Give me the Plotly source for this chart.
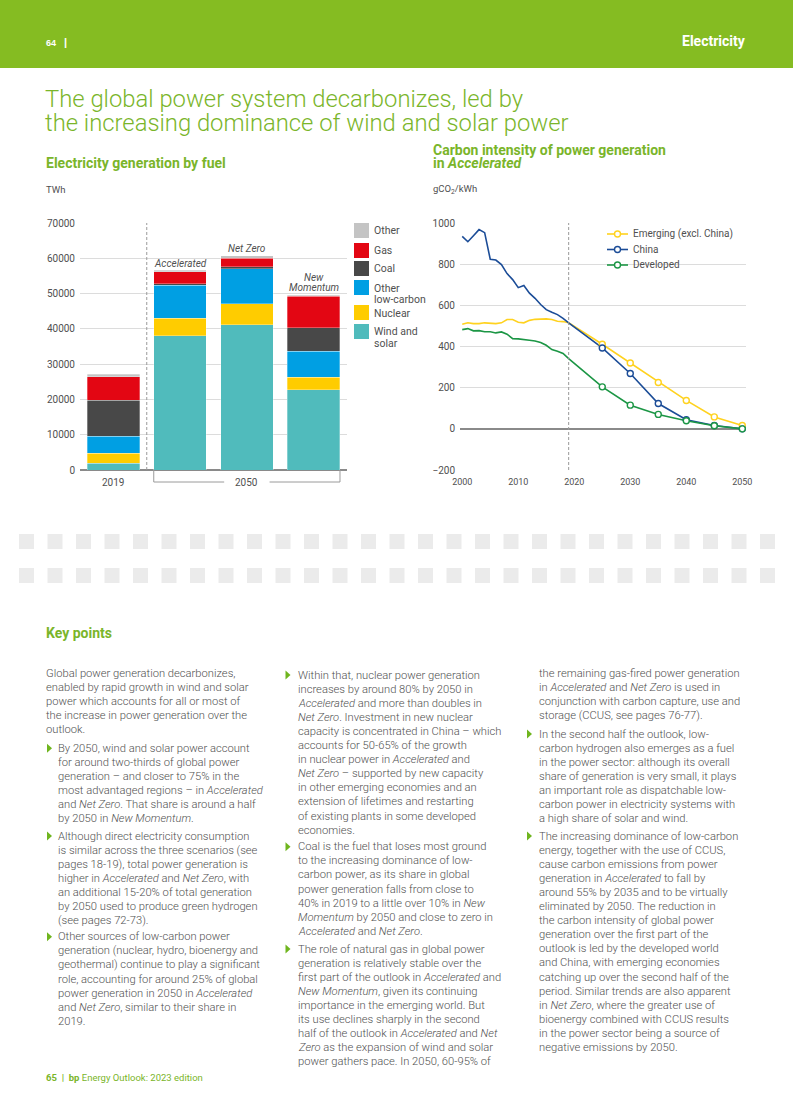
import plotly.graph_objects as go
from plotly.subplots import make_subplots

# ---------------- data ----------------
categories = ["2019", "Accelerated", "Net Zero", "New Momentum"]
wind_solar = [1900, 38000, 41200, 22700]
nuclear = [2800, 5000, 5950, 3600]
other_low_carbon = [4900, 9350, 9850, 7350]
coal = [10100, 400, 550, 6600]
gas = [6700, 3500, 2450, 9050]
other = [700, 300, 650, 200]

years_hist = [2000, 2001, 2002, 2003, 2004, 2005, 2006, 2007, 2008, 2009,
              2010, 2011, 2012, 2013, 2014, 2015, 2016, 2017, 2018, 2019]
china_hist = [935, 909, 938, 968, 953, 824, 820, 798, 754, 725,
              686, 696, 659, 634, 604, 579, 566, 555, 537, 515]
emerging_hist = [508, 515, 511, 511, 515, 513, 511, 515, 531, 531,
                 518, 515, 527, 532, 534, 534, 531, 523, 521, 515]
developed_hist = [482, 487, 476, 477, 472, 472, 466, 471, 460, 438,
                  437, 435, 430, 427, 419, 406, 385, 377, 366, 341]
years_proj = [2025, 2030, 2035, 2040, 2045, 2050]
china_proj = [393, 269, 123, 44, 16, 0]
emerging_proj = [411, 320, 225, 138, 58, 16]
developed_proj = [204, 115, 70, 39, 15, 0]

bar_ticks = [0, 10000, 20000, 30000, 40000, 50000, 60000, 70000]
line_yticks = [-200, 0, 200, 400, 600, 800, 1000]
line_xticks = [2000, 2010, 2020, 2030, 2040, 2050]

# ---------------- text ----------------
col1 = [
    ("p", ["Global power generation decarbonizes,",
           "enabled by rapid growth in wind and solar",
           "power which accounts for all or most of",
           "the increase in power generation over the",
           "outlook."]),
    ("b", ["By 2050, wind and solar power account",
           "for around two-thirds of global power",
           "generation – and closer to 75% in the",
           "most advantaged regions – in <i>Accelerated</i>",
           "and <i>Net Zero</i>. That share is around a half",
           "by 2050 in <i>New Momentum</i>."]),
    ("b", ["Although direct electricity consumption",
           "is similar across the three scenarios (see",
           "pages 18-19), total power generation is",
           "higher in <i>Accelerated</i> and <i>Net Zero</i>, with",
           "an additional 15-20% of total generation",
           "by 2050 used to produce green hydrogen",
           "(see pages 72-73)."]),
    ("b", ["Other sources of low-carbon power",
           "generation (nuclear, hydro, bioenergy and",
           "geothermal) continue to play a significant",
           "role, accounting for around 25% of global",
           "power generation in 2050 in <i>Accelerated</i>",
           "and <i>Net Zero</i>, similar to their share in",
           "2019."]),
]
col2 = [
    ("b", ["Within that, nuclear power generation",
           "increases by around 80% by 2050 in",
           "<i>Accelerated</i> and more than doubles in",
           "<i>Net Zero</i>. Investment in new nuclear",
           "capacity is concentrated in China – which",
           "accounts for 50-65% of the growth",
           "in nuclear power in <i>Accelerated</i> and",
           "<i>Net Zero</i> – supported by new capacity",
           "in other emerging economies and an",
           "extension of lifetimes and restarting",
           "of existing plants in some developed",
           "economies."]),
    ("b", ["Coal is the fuel that loses most ground",
           "to the increasing dominance of low-",
           "carbon power, as its share in global",
           "power generation falls from close to",
           "40% in 2019 to a little over 10% in <i>New</i>",
           "<i>Momentum</i> by 2050 and close to zero in",
           "<i>Accelerated</i> and <i>Net Zero</i>."]),
    ("b", ["The role of natural gas in global power",
           "generation is relatively stable over the",
           "first part of the outlook in <i>Accelerated</i> and",
           "<i>New Momentum</i>, given its continuing",
           "importance in the emerging world. But",
           "its use declines sharply in the second",
           "half of the outlook in <i>Accelerated</i> and <i>Net</i>",
           "<i>Zero</i> as the expansion of wind and solar",
           "power gathers pace. In 2050, 60-95% of"]),
]
col3 = [
    ("p", ["the remaining gas-fired power generation",
           "in <i>Accelerated</i> and <i>Net Zero</i> is used in",
           "conjunction with carbon capture, use and",
           "storage (CCUS, see pages 76-77)."]),
    ("b", ["In the second half the outlook, low-",
           "carbon hydrogen also emerges as a fuel",
           "in the power sector: although its overall",
           "share of generation is very small, it plays",
           "an important role as dispatchable low-",
           "carbon power in electricity systems with",
           "a high share of solar and wind."]),
    ("b", ["The increasing dominance of low-carbon",
           "energy, together with the use of CCUS,",
           "cause carbon emissions from power",
           "generation in <i>Accelerated</i> to fall by",
           "around 55% by 2035 and to be virtually",
           "eliminated by 2050. The reduction in",
           "the carbon intensity of global power",
           "generation over the first part of the",
           "outlook is led by the developed world",
           "and China, with emerging economies",
           "catching up over the second half of the",
           "period. Similar trends are also apparent",
           "in <i>Net Zero</i>, where the greater use of",
           "bioenergy combined with CCUS results",
           "in the power sector being a source of",
           "negative emissions by 2050."]),
]

# ---------------- style ----------------
W, H = 793, 1118
GREEN = "#85BC22"
TGREEN = "#7AB52A"
TXT = "#505050"
GRID = "#DCDCDC"
BODY_FONT = "Roboto"
DASH = "3px,2px"


def X(px):
    return px / W


def Y(py):
    return 1 - py / H


fig = make_subplots(rows=1, cols=2)

series = [("Wind and solar", wind_solar, "#50BBBC"),
          ("Nuclear", nuclear, "#FFCC00"),
          ("Other low-carbon", other_low_carbon, "#009FE3"),
          ("Coal", coal, "#484848"),
          ("Gas", gas, "#E30613"),
          ("Other", other, "#C4C4C4")]
for name, vals, col in series:
    fig.add_trace(go.Bar(x=categories, y=vals, name=name, marker_color=col,
                         marker_line_color="rgba(255,255,255,0.6)", marker_line_width=0.5,
                         showlegend=False), row=1, col=1)

lines = [("Emerging (excl. China)", emerging_hist, emerging_proj, "#FFD21F"),
         ("China", china_hist, china_proj, "#1B4C97"),
         ("Developed", developed_hist, developed_proj, "#1C9645")]
for name, hist, proj, col in lines:
    fig.add_trace(go.Scatter(x=years_hist + years_proj, y=hist + proj, mode="lines",
                             line=dict(color=col, width=1.6), showlegend=False,
                             hoverinfo="skip"), row=1, col=2)
for name, hist, proj, col in lines:
    fig.add_trace(go.Scatter(x=years_proj, y=proj, mode="markers",
                             marker=dict(symbol="circle", size=6, color="white",
                                         line=dict(color=col, width=1.4)),
                             showlegend=False, name=name), row=1, col=2)

plot_top, plot_bot = 223, 470
tickfont = dict(family=BODY_FONT, size=10, color=TXT)
fig.update_layout(
    width=W, height=H, margin=dict(l=0, r=0, t=0, b=0, pad=0, autoexpand=False),
    paper_bgcolor="white", plot_bgcolor="white", showlegend=False,
    barmode="stack", bargap=0.21,
    font=dict(family=BODY_FONT, color=TXT),
    xaxis=dict(domain=[X(80), X(347)], range=[-0.5, 3.5], showticklabels=False,
               showgrid=False, zeroline=False, showline=False, fixedrange=True,
               automargin=False),
    yaxis=dict(domain=[Y(plot_bot), Y(plot_top)], range=[0, 70000], tickvals=bar_ticks,
               tickformat="d", tickfont=tickfont, showgrid=True, gridcolor=GRID,
               gridwidth=1, zeroline=True, zerolinecolor="#8A8A8A", zerolinewidth=1.5,
               ticks="", ticklabelstandoff=4, showline=False, automargin=False),
    xaxis2=dict(domain=[X(460), X(746)], range=[1999.6, 2050.66], tickvals=line_xticks,
                tickformat="d",
                tickfont=dict(family=BODY_FONT, size=9, color=TXT), showgrid=False,
                zeroline=False, showline=False, ticks="", ticklabelstandoff=5,
                automargin=False),
    yaxis2=dict(domain=[Y(plot_bot), Y(plot_top)], range=[-200, 1000], tickvals=line_yticks,
                tickformat="d", tickfont=tickfont, showgrid=True, gridcolor=GRID,
                gridwidth=1, zeroline=True, zerolinecolor="#8A8A8A", zerolinewidth=1.5,
                ticks="", ticklabelstandoff=4, showline=False, automargin=False),
)

shapes = []
annos = []

shapes.append(dict(type="rect", xref="paper", yref="paper", x0=0, x1=1, y0=Y(68), y1=1,
                   fillcolor=GREEN, line_width=0, layer="below"))


def txt(x, y, s, size=11, color=TXT, xanchor="left", yanchor="middle", family=BODY_FONT,
        weight="normal", align="left"):
    annos.append(dict(x=X(x), y=Y(y), xref="paper", yref="paper", text=s, showarrow=False,
                      xanchor=xanchor, yanchor=yanchor, align=align, borderpad=0,
                      font=dict(family=family, size=size, color=color, weight=weight)))


txt(45, 42.5, "64", size=9, color="white", weight="bold", family="Liberation Sans")
txt(63, 42, "|", size=11, color="white", weight="bold", family="Liberation Sans")
txt(747, 41, "Electricity", size=14, color="white", xanchor="right", weight="bold")

txt(44, 99, "The global power system decarbonizes, led by", size=23.8, color=TGREEN, weight=300)
txt(44, 123.5, "the increasing dominance of wind and solar power", size=23.8, color=TGREEN,
    weight=300)

SUB = 14
txt(45, 163.5, "Electricity generation by fuel", size=SUB, color=TGREEN, weight="bold")
txt(432, 149.5, "Carbon intensity of power generation", size=SUB, color=TGREEN,
    weight="bold")
txt(432, 163.5, "in <i>Accelerated</i>", size=SUB, color=TGREEN, weight="bold")
txt(45, 189.5, "TWh", size=9.5)
txt(432, 189.5, "gCO<sub>2</sub>/kWh", size=9.5)

# bar chart decorations
shapes.append(dict(type="line", xref="x", yref="paper", x0=0.5, x1=0.5, y0=Y(470), y1=Y(223),
                   line=dict(color="#9A9A9A", width=1, dash=DASH)))
for xi, lbl, yy in [(1, "Accelerated", 263), (2, "Net Zero", 248)]:
    annos.append(dict(x=xi, y=Y(yy), xref="x", yref="paper", text="<i>" + lbl + "</i>",
                      showarrow=False, xanchor="center", yanchor="middle",
                      font=dict(size=10, color=TXT, family=BODY_FONT)))
for lbl, yy in [("New", 277), ("Momentum", 287.5)]:
    annos.append(dict(x=3, y=Y(yy), xref="x", yref="paper", text="<i>" + lbl + "</i>",
                      showarrow=False, xanchor="center", yanchor="middle",
                      font=dict(size=10, color=TXT, family=BODY_FONT)))
for xi, lbl in [(0, "2019"), (2, "2050")]:
    annos.append(dict(x=xi, y=Y(482), xref="x", yref="paper", text=lbl, showarrow=False,
                      xanchor="center", yanchor="middle",
                      font=dict(size=10, color=TXT, family=BODY_FONT)))
br_col = "#9A9A9A"
for (a, b, c, d) in [(0.605, 0.605, 470, 482), (3.395, 3.395, 470, 482),
                     (0.605, 1.66, 482, 482), (2.34, 3.395, 482, 482)]:
    shapes.append(dict(type="line", xref="x", yref="paper", x0=a, x1=b, y0=Y(c), y1=Y(d),
                       line=dict(color=br_col, width=1)))

# bar legend
leg = [("#C4C4C4", 223, ["Other"]),
       ("#E30613", 243, ["Gas"]),
       ("#484848", 261, ["Coal"]),
       ("#009FE3", 280, ["Other", "low-carbon"]),
       ("#FFCC00", 305, ["Nuclear"]),
       ("#50BBBC", 324, ["Wind and", "solar"])]
for col, top, lns in leg:
    shapes.append(dict(type="rect", xref="paper", yref="paper", x0=X(354), x1=X(369),
                       y0=Y(top + 15), y1=Y(top), fillcolor=col, line_width=0))
    for i, l in enumerate(lns):
        txt(373, top + 8 + i * 11, l, size=10.5)

# line chart decorations
shapes.append(dict(type="line", xref="x2", yref="paper", x0=2019, x1=2019, y0=Y(470),
                   y1=Y(223), line=dict(color="#9A9A9A", width=1, dash=DASH)))
for i, (name, hist, proj, col) in enumerate(lines):
    yy = 234 + i * 15.5
    shapes.append(dict(type="line", xref="paper", yref="paper", x0=X(607), x1=X(628),
                       y0=Y(yy), y1=Y(yy), line=dict(color=col, width=1.6)))
    shapes.append(dict(type="circle", xref="paper", yref="paper", x0=X(614.5), x1=X(620.5),
                       y0=Y(yy + 3), y1=Y(yy - 3), fillcolor="white",
                       line=dict(color=col, width=1.4)))
    txt(632, yy, name, size=10)

# gray decorative blocks
for r_top in (534, 568):
    for k in range(27):
        x0 = 19 + k * 28.5
        shapes.append(dict(type="rect", xref="paper", yref="paper", x0=X(x0), x1=X(x0 + 15),
                           y0=Y(r_top + 15), y1=Y(r_top), fillcolor="#EBEBEB", line_width=0))

txt(45, 633, "Key points", size=SUB, color=TGREEN, weight="bold")

# body columns (one annotation per line)
LH = 14.1
starts = {1: [673.3, 748.3, 836, 936.7], 2: [675, 846.7, 949], 3: [673.3, 734, 836]}
cols = {1: (col1, 45, 57, 47), 2: (col2, 285, 297, 285.5), 3: (col3, 538, 538, 527)}
for c, (paras, xp, xb, tri_x) in cols.items():
    for (kind, lns), first in zip(paras, starts[c]):
        xx = xp if kind == "p" else xb
        for i, ln in enumerate(lns):
            txt(xx, first + i * LH, ln, size=11.2, weight=300)
        if kind == "b":
            path = "M {} {} L {} {} L {} {} Z".format(
                X(tri_x), Y(first - 4.5), X(tri_x + 5), Y(first), X(tri_x), Y(first + 4.5))
            shapes.append(dict(type="path", xref="paper", yref="paper", path=path,
                               fillcolor="#6FB51E", line_width=0))

txt(45, 1077, "<b>65</b>  <b>|</b>  <b>bp</b> Energy Outlook: 2023 edition", size=9.5,
    color=TGREEN)

fig.update_layout(shapes=shapes, annotations=annos)
fig.write_html("out.html", config={"displayModeBar": False, "staticPlot": True},
               post_script="document.body.style.margin='0';"
                           "document.documentElement.style.overflow='hidden';")
